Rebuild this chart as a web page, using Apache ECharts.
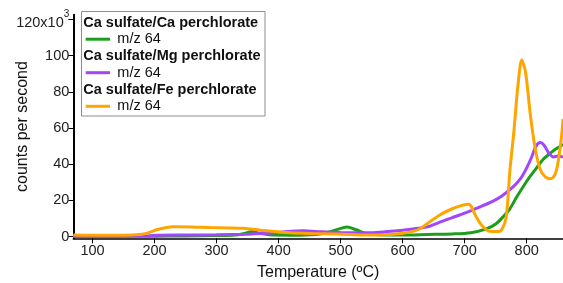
<!DOCTYPE html>
<html>
<head>
<meta charset="utf-8">
<script src="https://cdn.jsdelivr.net/npm/echarts@6/dist/echarts.min.js"></script>
<style>
html,body{margin:0;padding:0;background:#fff;}
#chart{width:563px;height:283px;}
</style>
</head>
<body>
<div id="chart"></div>
<script>
// ---- data (temperature in ºC, counts per second in thousands) ----
const greenTemps = [69,100,150,200,250,300,330,345,357,370,385,420,460,480,495,510,525,540,560,600,640,680,710,735,750,762,773,784,795,806,816,826,836,845,853,858.5];
const greenVals  = [0.3,0.2,0.2,0.3,0.4,0.6,0.9,1.8,2.8,1.8,1.0,0.8,1.2,2.4,4.0,5.3,3.8,1.8,1.0,0.9,1.2,1.5,2.2,4.3,7.0,11.0,15.5,22,28,33.5,38,42.5,45.5,48,49.7,51];

const purpleTemps = [69,100,150,190,205,250,300,350,390,420,440,470,500,520,550,575,600,625,640,660,680,700,725,745,760,778,790,800,808,815,822,828,835,843,850,858.5];
const purpleVals  = [0.2,0.2,0.3,0.4,0.8,0.9,1.0,1.4,2.0,3.0,3.2,2.7,2.3,2.2,2.2,2.8,3.6,4.6,5.4,8.0,10.5,13,16.5,19.5,22.5,27.5,32,38,44,50,52,50.5,46.5,44,44.5,44];

const orangeTemps = [69,100,150,180,192,203,214,230,260,290,320,342,355,370,390,418,450,494,547,580,600,615,628,644,660,682,706,710,717,727,740,752,760,767,773,779,786,792,798,806,814,822,830,838,845,850,856,858.5];
const orangeVals  = [0.9,0.8,0.8,1.4,2.4,3.8,4.7,5.5,5.4,5.0,4.8,4.6,4.2,3.6,3.0,2.2,1.8,1.5,0.9,1.2,1.9,2.8,4.4,8.3,12,15.7,17.9,17,12,6.5,3.0,2.8,4.0,11,37,57,84,97.5,91,67,48,37,33,32,34,40,55,65];

const seriesNames = ['Ca sulfate/Ca perchlorate', 'Ca sulfate/Mg perchlorate', 'Ca sulfate/Fe perchlorate'];
const traceLabel = 'm/z 64';
const xTicks = [100,200,300,400,500,600,700,800];
const yTicks = [0,20,40,60,80,100,120];

const colors = ['#1c9e1c', '#a046fb', '#ffa500'];
const FONT = 'Liberation Sans, Arial, Helvetica, sans-serif';

function pairs(t, v){ return t.map((x,i)=>[x, v[i]]); }

const chart = echarts.init(document.getElementById('chart'), null, {renderer:'canvas'});

// legend (drawn as graphic: box, bold headers, swatch lines, labels)
const legendGraphics = [];
legendGraphics.push({type:'rect', shape:{x:81.5, y:11.5, width:183.5, height:104.5}, style:{fill:'#fff', stroke:'#8c8c8c', lineWidth:1}, z:100});
const rowY = [22.7, 56.2, 89.8];
seriesNames.forEach((nm, i) => {
  legendGraphics.push({type:'text', x:83.3, y:rowY[i], style:{text:nm, font:'bold 14.5px ' + FONT, fill:'#111', verticalAlign:'middle', align:'left'}, z:101});
  legendGraphics.push({type:'line', shape:{x1:85.7, y1:rowY[i]+16.5, x2:110, y2:rowY[i]+16.5}, style:{stroke:colors[i], lineWidth:3}, z:101});
  legendGraphics.push({type:'text', x:117.3, y:rowY[i]+16.5, style:{text:traceLabel, font:'14.5px ' + FONT, fill:'#111', verticalAlign:'middle', align:'left'}, z:101});
});

const option = {
  animation:false,
  backgroundColor:'#fff',
  grid:{left:73.3, right:0, top:14.8, bottom:44.7, containLabel:false, outerBoundsMode:'none'},
  xAxis:{
    type:'value', min:69, max:858.5,
    name:'Temperature (ºC)', nameLocation:'middle', nameGap:26, nameMoveOverlap:false,
    nameTextStyle:{fontSize:16, color:'#111', fontFamily:FONT},
    axisLine:{onZero:false, lineStyle:{color:'#000', width:1.5}},
    axisTick:{show:true, length:5, lineStyle:{color:'#000', width:1}, customValues:xTicks},
    axisLabel:{fontSize:14.5, color:'#222', fontFamily:FONT, margin:5, customValues:xTicks},
    splitLine:{show:false}
  },
  yAxis:{
    type:'value', min:-0.9, max:122.5,
    name:'counts per second', nameLocation:'middle', nameGap:43, nameMoveOverlap:false,
    nameTextStyle:{fontSize:16, color:'#111', fontFamily:FONT},
    axisLine:{show:true, onZero:false, lineStyle:{color:'#000', width:2}},
    axisTick:{show:true, length:5, lineStyle:{color:'#000', width:1}, customValues:yTicks},
    axisLabel:{fontSize:14.5, color:'#222', fontFamily:FONT, margin:4, customValues:yTicks,
      formatter:function(v){ return v===120 ? '{a|120x10}{s|3}' : String(v); },
      rich:{a:{fontSize:14.5, color:'#222', fontFamily:FONT, padding:[8,0,0,0]}, s:{fontSize:10, color:'#222', fontFamily:FONT, padding:[0,0,10,0]}}
    },
    splitLine:{show:false}
  },
  series:[
    {name:seriesNames[0], type:'line', data:pairs(greenTemps, greenVals), showSymbol:false, smooth:0.3, lineStyle:{color:colors[0], width:3}, itemStyle:{color:colors[0]}, z:2},
    {name:seriesNames[1], type:'line', data:pairs(purpleTemps, purpleVals), showSymbol:false, smooth:0.3, lineStyle:{color:colors[1], width:3}, itemStyle:{color:colors[1]}, z:3},
    {name:seriesNames[2], type:'line', data:pairs(orangeTemps, orangeVals), showSymbol:false, smooth:0.3, lineStyle:{color:colors[2], width:3}, itemStyle:{color:colors[2]}, z:4}
  ],
  graphic: legendGraphics
};
chart.setOption(option);
</script>
</body>
</html>
